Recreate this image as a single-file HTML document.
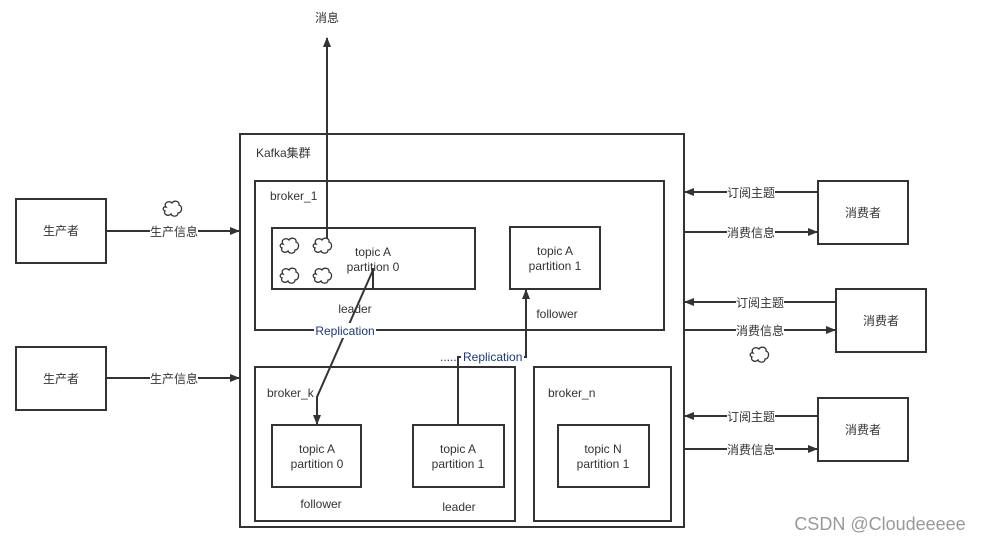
<!DOCTYPE html>
<html><head><meta charset="utf-8"><style>
html,body{margin:0;padding:0;background:#fff;}
svg{display:block;}
text{font-family:"Liberation Sans","Noto Sans CJK SC",sans-serif;font-size:12px;fill:#333;}
.b{fill:none;stroke:#333;stroke-width:2;}
.l{fill:none;stroke:#333;stroke-width:2;}
.lb{fill:#fff;}
</style></head><body>
<svg width="995" height="541" viewBox="0 0 995 541" xmlns="http://www.w3.org/2000/svg">
<defs>
<marker id="a" markerWidth="10" markerHeight="8" refX="9" refY="4" orient="auto" markerUnits="userSpaceOnUse">
<path d="M0,0 L10,4 L0,8 Z" fill="#333"/></marker>
<g id="c"><path d="M-7,-2 C-10,-6 -4,-9 -1,-6 C1,-9 7,-8 6,-4 C10,-3 9,4 5,4 C5,8 -1,8 -2,5 C-5,8 -10,5 -8,2 C-11,1 -10,-3 -7,-2 Z" fill="none" stroke="#333" stroke-width="1.3"/></g>
</defs>

<line class="l" x1="327" y1="238" x2="327" y2="38" marker-end="url(#a)"/>
<text x="327" y="22" text-anchor="middle">消息</text>

<rect class="b" x="240" y="134" width="444" height="393"/>
<text x="256" y="157">Kafka集群</text>

<rect class="b" x="255" y="181" width="409" height="149"/>
<text x="270" y="200">broker_1</text>
<rect class="b" x="272" y="228" width="203" height="61"/>
<use href="#c" x="290" y="246"/><use href="#c" x="323" y="246"/>
<use href="#c" x="290" y="276"/><use href="#c" x="323" y="276"/>
<text x="373" y="256" text-anchor="middle">topic A</text>
<text x="373" y="271" text-anchor="middle">partition 0</text>
<text x="355" y="313" text-anchor="middle">leader</text>
<rect class="b" x="510" y="227" width="90" height="62"/>
<text x="555" y="255" text-anchor="middle">topic A</text>
<text x="555" y="270" text-anchor="middle">partition 1</text>
<text x="557" y="318" text-anchor="middle">follower</text>

<rect class="b" x="255" y="367" width="260" height="154"/>
<text x="267" y="397">broker_k</text>
<rect class="b" x="272" y="425" width="89" height="62"/>
<text x="317" y="453" text-anchor="middle">topic A</text>
<text x="317" y="468" text-anchor="middle">partition 0</text>
<text x="321" y="508" text-anchor="middle">follower</text>
<rect class="b" x="413" y="425" width="91" height="62"/>
<text x="458" y="453" text-anchor="middle">topic A</text>
<text x="458" y="468" text-anchor="middle">partition 1</text>
<text x="459" y="511" text-anchor="middle">leader</text>

<rect class="b" x="534" y="367" width="137" height="154"/>
<text x="548" y="397">broker_n</text>
<rect class="b" x="558" y="425" width="91" height="62"/>
<text x="603" y="453" text-anchor="middle">topic N</text>
<text x="603" y="468" text-anchor="middle">partition 1</text>

<polyline class="l" points="373,268 373,289"/>
<polyline class="l" points="373,270 317,397 317,424" marker-end="url(#a)"/>
<rect class="lb" x="314" y="323" width="62" height="15"/>
<text x="345" y="335" text-anchor="middle" style="fill:#1a3a7a">Replication</text>
<polyline class="l" points="458,425 458,357 526,357 526,290" marker-end="url(#a)"/>
<rect class="lb" x="461" y="349" width="63" height="15"/>
<text x="440" y="361" style="fill:#1a3a7a">......</text>
<text x="463" y="361" style="fill:#1a3a7a">Replication</text>

<rect class="b" x="16" y="199" width="90" height="64"/>
<text x="61" y="235" text-anchor="middle">生产者</text>
<rect class="b" x="16" y="347" width="90" height="63"/>
<text x="61" y="383" text-anchor="middle">生产者</text>
<use href="#c" x="173" y="209"/>
<line class="l" x1="106" y1="231" x2="239" y2="231" marker-end="url(#a)"/>
<rect class="lb" x="150" y="224" width="48" height="14"/>
<text x="174" y="236" text-anchor="middle">生产信息</text>
<line class="l" x1="106" y1="378" x2="239" y2="378" marker-end="url(#a)"/>
<rect class="lb" x="150" y="371" width="48" height="14"/>
<text x="174" y="383" text-anchor="middle">生产信息</text>

<rect class="b" x="818" y="181" width="90" height="63"/>
<text x="863" y="217" text-anchor="middle">消费者</text>
<line class="l" x1="818" y1="192" x2="685" y2="192" marker-end="url(#a)"/>
<rect class="lb" x="727" y="185" width="48" height="14"/>
<text x="751" y="197" text-anchor="middle">订阅主题</text>
<line class="l" x1="684" y1="232" x2="817" y2="232" marker-end="url(#a)"/>
<rect class="lb" x="727" y="225" width="48" height="14"/>
<text x="751" y="237" text-anchor="middle">消费信息</text>

<rect class="b" x="836" y="289" width="90" height="63"/>
<text x="881" y="325" text-anchor="middle">消费者</text>
<line class="l" x1="836" y1="302" x2="685" y2="302" marker-end="url(#a)"/>
<rect class="lb" x="736" y="295" width="48" height="14"/>
<text x="760" y="307" text-anchor="middle">订阅主题</text>
<line class="l" x1="684" y1="330" x2="835" y2="330" marker-end="url(#a)"/>
<rect class="lb" x="736" y="323" width="48" height="14"/>
<text x="760" y="335" text-anchor="middle">消费信息</text>
<use href="#c" x="760" y="355"/>

<rect class="b" x="818" y="398" width="90" height="63"/>
<text x="863" y="434" text-anchor="middle">消费者</text>
<line class="l" x1="818" y1="416" x2="685" y2="416" marker-end="url(#a)"/>
<rect class="lb" x="727" y="409" width="48" height="14"/>
<text x="751" y="421" text-anchor="middle">订阅主题</text>
<line class="l" x1="684" y1="449" x2="817" y2="449" marker-end="url(#a)"/>
<rect class="lb" x="727" y="442" width="48" height="14"/>
<text x="751" y="454" text-anchor="middle">消费信息</text>

<text x="880" y="530" text-anchor="middle" style="font-size:18px;fill:#999">CSDN @Cloudeeeee</text>
</svg>
</body></html>
